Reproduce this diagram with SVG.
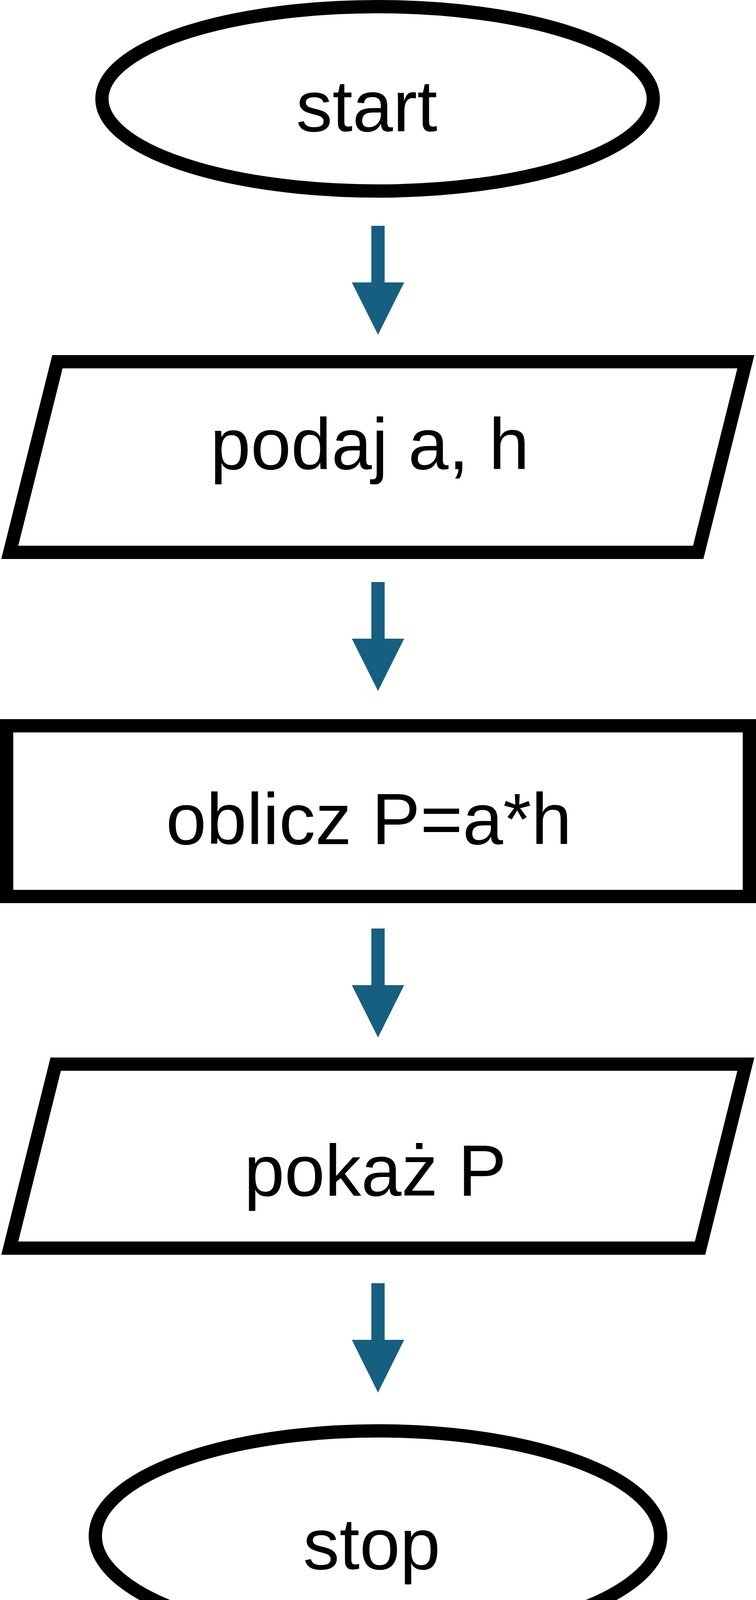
<svg xmlns="http://www.w3.org/2000/svg" width="1936" height="4218" viewBox="0 0 1936 4218">
<style>
.shape{fill:#ffffff;stroke:#000000;stroke-width:34;stroke-linejoin:miter;stroke-miterlimit:10}
.lbl{font-family:"Liberation Sans",Arial,Helvetica,sans-serif;font-size:186px;fill:#000000;text-anchor:middle}
.arrow{fill:#175F80;stroke:none}
</style>
<rect x="0" y="0" width="1936" height="4218" fill="#ffffff"/>
<g id="connectors">
<path class="arrow" d="M951,578 H985 V723 H1035 L968,857 L901,723 H951 Z"/>
<path class="arrow" d="M951,1490 H985 V1635 H1035 L968,1769 L901,1635 H951 Z"/>
<path class="arrow" d="M951,2377 H985 V2522 H1035 L968,2656 L901,2522 H951 Z"/>
<path class="arrow" d="M951,3285 H985 V3430 H1035 L968,3565 L901,3430 H951 Z"/>
</g>
<g id="node-start">
<ellipse class="shape" cx="967" cy="253" rx="706" ry="236"/>
<text class="lbl" x="939" y="336">start</text>
</g>
<g id="node-input">
<polygon class="shape" points="147,926 1910,926 1788,1414 25,1414"/>
<text class="lbl" x="947" y="1201">podaj a, h</text>
</g>
<g id="node-process">
<rect class="shape" x="17" y="1858" width="1902" height="437"/>
<text class="lbl" x="944.5" y="2161">oblicz P=a*h</text>
</g>
<g id="node-output">
<polygon class="shape" points="142.6,2724.3 1910,2724.3 1792.7,3195.3 25,3195.3"/>
<text class="lbl" x="961" y="3061">pokaż P</text>
</g>
<g id="node-stop">
<ellipse class="shape" cx="968" cy="3932" rx="724" ry="269"/>
<text class="lbl" x="952" y="4017">stop</text>
</g>
</svg>
